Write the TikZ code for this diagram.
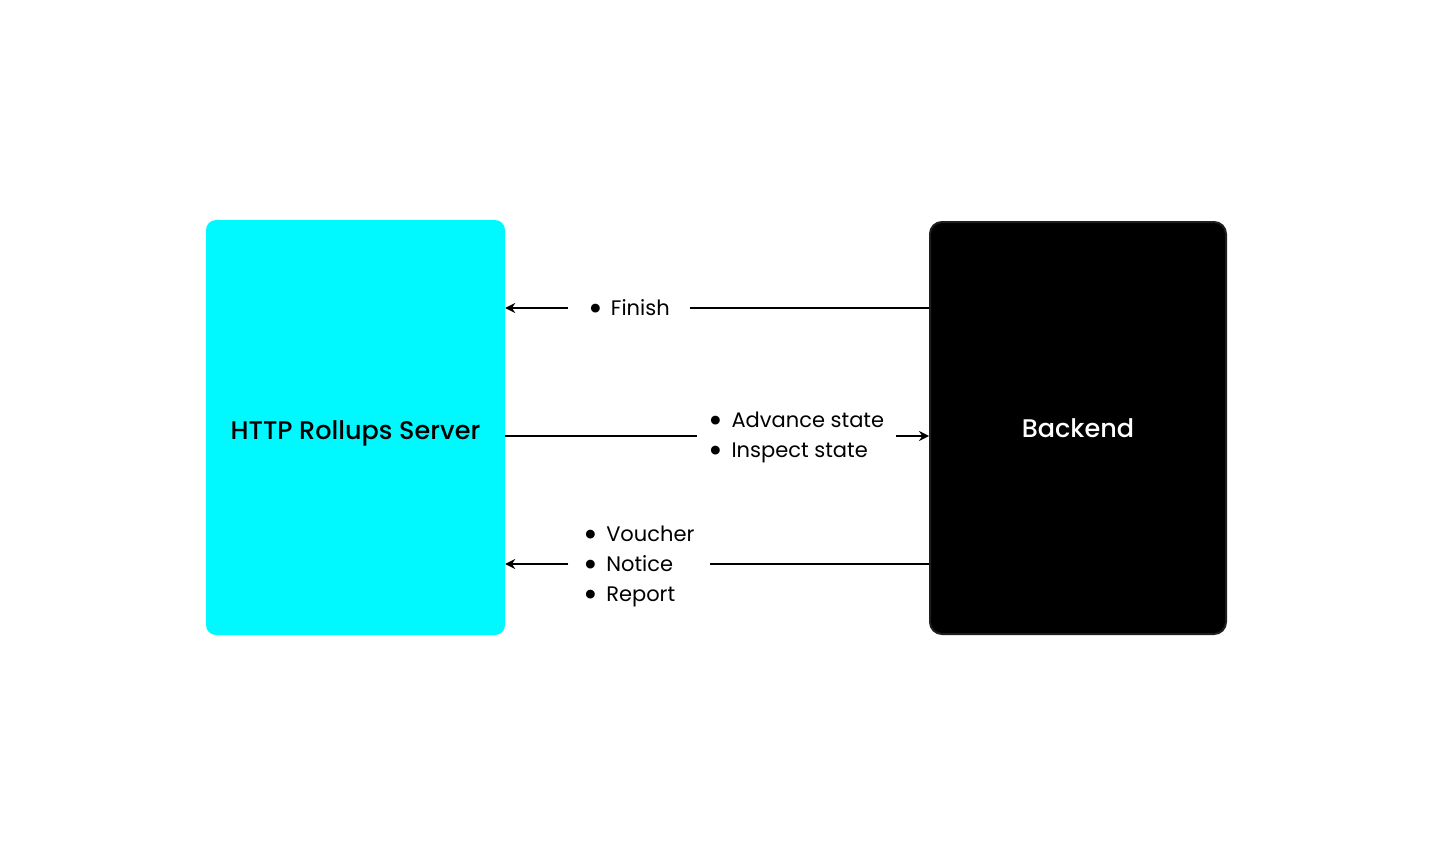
\documentclass[tikz,border=0pt]{standalone}
\usepackage{fontspec}
\usepackage{graphicx}
\setmainfont{Poppins}
\newfontfamily\mediumfont{Poppins Medium}
\usetikzlibrary{positioning,arrows.meta}
\definecolor{rollupcyan}{HTML}{00F8FF}
\definecolor{edgegray}{HTML}{1E1E1E}
\newcommand{\msgdot}{\raisebox{-4.5pt}[0pt][0pt]{\scalebox{1.7}{\textbullet}}\hspace{8pt}}
\begin{document}
\begin{tikzpicture}[x=1pt, y=-1pt,
    arrowstyle/.style={draw, line width=1.6pt, -{Stealth[length=10pt, width=10pt]}},
    plainline/.style={draw, line width=1.6pt},
    server/.style={rectangle, fill=rollupcyan, rounded corners=10pt,
        minimum width=299pt, minimum height=415pt,
        font=\mediumfont\fontsize{25.5}{30}\selectfont},
    backend/.style={rectangle, fill=black, draw=edgegray, line width=2pt,
        rounded corners=12pt, minimum width=296pt, minimum height=412pt,
        text=white, font=\mediumfont\fontsize{25.5}{30}\selectfont},
    msglist/.style={rectangle, fill=white, align=left, inner sep=0pt,
        font=\fontsize{21}{30}\selectfont}
]
\useasboundingbox (0,0) rectangle (1436,856);

\node (Server) [server] at (355.5,427.5)
  {\raisebox{-6pt}[\height][\depth]{HTTP Rollups Server}};
\node (Backend) [backend] at (1078,428) {Backend};

\node (Finish) [msglist, minimum width=122pt] at (629,308)
  {\msgdot Finish};
\node (Input) [msglist, minimum width=199pt] at (796.5,437.5)
  {\msgdot Advance state\\\msgdot Inspect state};
\node (Output) [msglist, minimum width=141pt] at (639,566.5)
  {\msgdot Voucher\\\msgdot Notice\\\msgdot Report};

\coordinate (InputL) at ([yshift=1.5pt]Input.west);
\coordinate (InputR) at ([yshift=1.5pt]Input.east);
\coordinate (OutputL) at ([yshift=2.5pt]Output.west);
\coordinate (OutputR) at ([yshift=2.5pt]Output.east);

% backend -> server
\draw[plainline] (Backend.west |- Finish.east) -- (Finish.east);
\draw[arrowstyle] (Finish.west) -- (Server.east |- Finish.west);

% server -> backend
\draw[plainline] (Server.east |- InputL) -- (InputL);
\draw[arrowstyle] (InputR) -- (Backend.west |- InputR);

\draw[plainline] (Backend.west |- OutputR) -- (OutputR);
\draw[arrowstyle] (OutputL) -- (Server.east |- OutputL);

\end{tikzpicture}
\end{document}
